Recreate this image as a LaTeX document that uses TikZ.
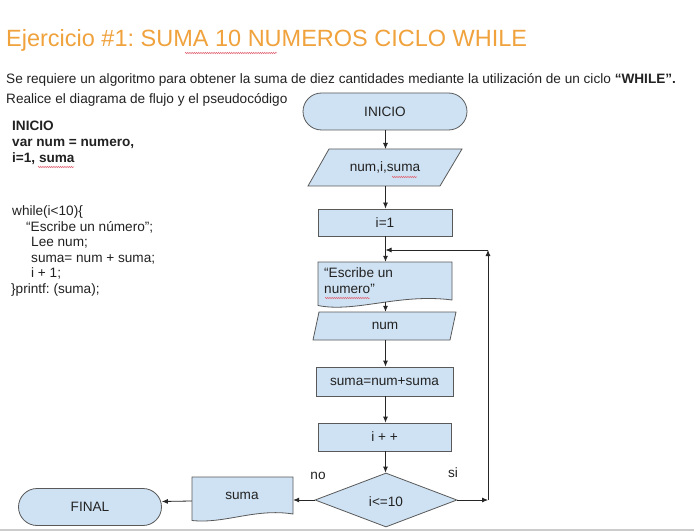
\documentclass[tikz,border=0pt]{standalone}
\usepackage{fontspec}
\setmainfont{Liberation Sans}
\usetikzlibrary{shapes.misc,shapes.geometric,arrows.meta,decorations.pathmorphing}
\definecolor{shfill}{HTML}{CFE2F3}
\definecolor{shdraw}{HTML}{595959}
\definecolor{ttl}{HTML}{F0A23C}
\definecolor{txt}{HTML}{222222}
\definecolor{squig}{HTML}{E06070}
\frenchspacing
\begin{document}
\begin{tikzpicture}[x=1pt,y=-1pt,
  every node/.style={text=txt, font=\frenchspacing\fontsize{13.6}{16}\selectfont, inner sep=0pt},
  term/.style={rounded rectangle, draw=shdraw, fill=shfill, line width=0.8pt},
  procbox/.style={rectangle, draw=shdraw, fill=shfill, line width=0.8pt},
  shp/.style={draw=shdraw, fill=shfill, line width=0.8pt},
  codeline/.style={anchor=base west},
  boldline/.style={anchor=base west, font=\frenchspacing\bfseries\fontsize{13.6}{16}\selectfont},
  conn/.style={draw=black!85, line width=0.8pt, -{Latex[length=6pt,width=5pt]}},
  squiggle/.style={draw=squig, line width=0.5pt, decorate, decoration={zigzag, amplitude=0.7pt, segment length=2.2pt}}
]
\useasboundingbox (0,0) rectangle (694,532);
\fill[white] (0,0) rectangle (694,532);
\draw[black!20, line width=2pt] (0,530) -- (694,530);

% title and statement
\node[codeline, text=ttl, font=\frenchspacing\fontsize{23.5}{28}\selectfont] (title) at (6,47) {Ejercicio \#1: SUMA 10 NUMEROS CICLO WHILE};
\draw[squiggle] (185,53) -- (277,53);
\node[codeline] (stmt1) at (6,84) {Se requiere un algoritmo para obtener la suma de diez cantidades mediante la utilización de un ciclo \textbf{“WHILE”.}};
\node[codeline] (stmt2) at (6,104) {Realice el diagrama de flujo y el pseudocódigo};

% pseudocode
\node[boldline] (p1) at (12,131) {INICIO};
\node[boldline] (p2) at (12,147) {var num = numero,};
\node[boldline] (p3) at (12,163) {i=1, suma};
\draw[squiggle] (38,167) -- (74,167);
\node[codeline] (c1) at (12,215) {while(i<10)\{};
\node[codeline] (c2) at (26,231) {“Escribe un número”;};
\node[codeline] (c3) at (31,246) {Lee num;};
\node[codeline] (c4) at (31,262) {suma= num + suma;};
\node[codeline] (c5) at (31,277) {i + 1;};
\node[codeline] (c6) at (11,293) {\}printf: (suma);};

% flowchart
\node[term, minimum width=164pt, minimum height=37pt] (inicio) at (385,111.5) {INICIO};

\path[shp] (329,149) -- (462,149) -- (440,186) -- (308,186) -- cycle;
\node[minimum width=132pt, minimum height=37pt] (vars) at (385,167.5) {num,i,suma};
\draw[squiggle] (392,177) -- (417,177);

\node[procbox, minimum width=134pt, minimum height=27pt] (i1) at (385,222.5) {i=1};

\path[shp] (318,262) -- (452,262) -- (452,300) .. controls (400,293) and (355,313) .. (318,305.5) -- cycle;
\node[minimum width=134pt, minimum height=38pt] (doc) at (385,281) {};
\node[codeline] (doct1) at (324,277) {“Escribe un};
\node[codeline] (doct2) at (324,293) {numero”};
\draw[squiggle] (325,298) -- (370,298);

\path[shp] (319,312) -- (456,312) -- (450,340) -- (313,340) -- cycle;
\node[minimum width=137pt, minimum height=28pt] (num) at (385,326) {num};

\node[procbox, minimum width=137pt, minimum height=29pt] (sumabox) at (384.5,381.5) {suma=num+suma};
\node[procbox, minimum width=133pt, minimum height=28pt] (inc) at (384.5,437) {i + +};

\node[diamond, shp, minimum width=142pt, minimum height=54pt, inner sep=0pt] (dec) at (386,500) {};
\node (dect) at (386,502) {i<=10};

\path[shp] (192,477) -- (293,477) -- (293,514) .. controls (255,508) and (225,524) .. (192,520.5) -- cycle;
\node[minimum width=101pt, minimum height=40pt] (out) at (242.5,498) {};
\node (outt) at (242,496) {suma};

\node[term, minimum width=143pt, minimum height=37pt] (final) at (90,507) {FINAL};

\node (no) at (318,476) {no};
\node (si) at (453,473) {si};

% connectors
\coordinate (loopA) at (488,500);
\coordinate (loopB) at (488,250);
\coordinate (loopC) at (385.5,250);
\draw[conn] (inicio.south -| 385.5,0) -- (385.5,149);
\draw[conn] (385.5,186) -- (i1.north -| 385.5,0);
\draw[conn] (i1.south -| 385.5,0) -- (doc.north -| 385.5,0);
\draw[conn] (385.5,302) -- (num.north -| 385.5,0);
\draw[conn] (num.south -| 385.5,0) -- (sumabox.north -| 385.5,0);
\draw[conn] (sumabox.south -| 385.5,0) -- (inc.north -| 385.5,0);
\draw[conn] (inc.south -| 385.5,0) -- (dec.north -| 385.5,0);
\draw[conn] (dec.east) -- (loopA);
\draw[conn] (loopA) -- (loopB);
\draw[conn] (loopB) -- (loopC);
\draw[conn] (dec.west) -- (out.east |- dec.west);
\draw[conn] (out.west |- 0,501) -- (final.east |- 0,501.5);
\end{tikzpicture}
\end{document}
